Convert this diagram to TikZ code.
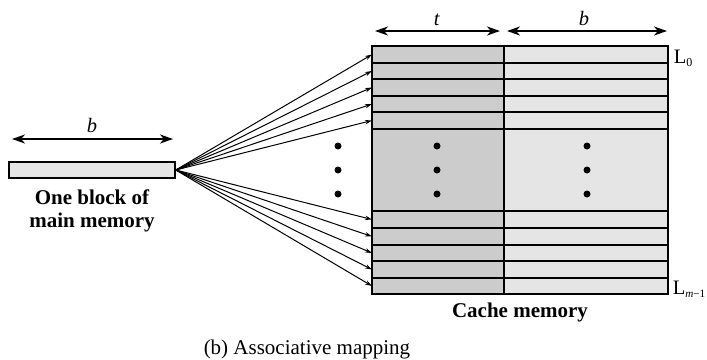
\documentclass[tikz,border=0pt]{standalone}
\usepackage{fontspec}
\setmainfont{Liberation Serif}
\usetikzlibrary{arrows.meta}
\definecolor{tagfill}{gray}{0.8}
\definecolor{linefill}{gray}{0.9}
\begin{document}
\begin{tikzpicture}[x=0.5pt, y=-0.5pt, line width=0.75pt,
    every node/.style={font=\fontsize{10.25}{11.5}\selectfont, inner sep=0pt},
    titletext/.style={font=\fontsize{10.5}{11.5}\selectfont\bfseries},
    dimarrow/.style={line width=1pt, {Stealth[length=6.5pt,width=4.5pt,inset=2pt]}-{Stealth[length=6.5pt,width=4.5pt,inset=2pt]}},
    fanarrow/.style={line width=0.5pt, -{Stealth[length=3.5pt,width=2.2pt]}}]
            \useasboundingbox (0,0) rectangle (707,359);
            \fill[tagfill] (372,46) rectangle (504,294);
            \fill[linefill] (504,46) rectangle (668,294);
            \foreach \y in {63,79,96,112,129,211,228,245,261,278} \draw (372,\y) -- (668,\y);
            \draw (372,46) rectangle (668,294);
            \draw (504,46) -- (504,294);
            \foreach \y [count=\i] in {54.5,71,87.5,104,120.5,219.5,236.5,253,269.5,286} \coordinate (row\i) at (372,\y);
            \node[draw, fill=linefill, minimum width=83pt, minimum height=8pt] (blk) at (92,170) {};
            \foreach \i in {1,...,10} \draw[fanarrow] (blk.east) -- (row\i);
            \foreach \x in {338,437,587} \foreach \y in {146,170,194} \fill (\x,\y) circle (3.5);
            \coordinate (t0) at (375,31); \coordinate (t1) at (500,31);
            \coordinate (b0) at (507,31); \coordinate (b1) at (667,31);
            \coordinate (m0) at (12,139); \coordinate (m1) at (173,139);
            \draw[dimarrow] (t0) -- (t1);
            \draw[dimarrow] (b0) -- (b1);
            \draw[dimarrow] (m0) -- (m1);
            \node[anchor=base] (tlabel) at (437,25) {\textit{t}};
            \node[anchor=base] (blabel) at (584,25) {\textit{b}};
            \node[anchor=base] (mlabel) at (92,132) {\textit{b}};
            \node[anchor=base west] (lzero) at (673,63) {L{\fontsize{6}{6}\selectfont\raisebox{-1.6pt}{0}}};
            \node[anchor=base west] (lmone) at (672,294) {L{\fontsize{5.6}{6}\selectfont\raisebox{-1.6pt}{\textit{m}−1}}};
            \node[align=center, anchor=north, titletext] (blkname) at (92,189) {One block of\\main memory};
            \node[anchor=base, titletext] (cachename) at (520,317) {Cache memory};
            \node[anchor=base west, font=\fontsize{10.5}{12}\selectfont] (caption) at (203,354) {(b) Associative mapping};
        \end{tikzpicture}
\end{document}
